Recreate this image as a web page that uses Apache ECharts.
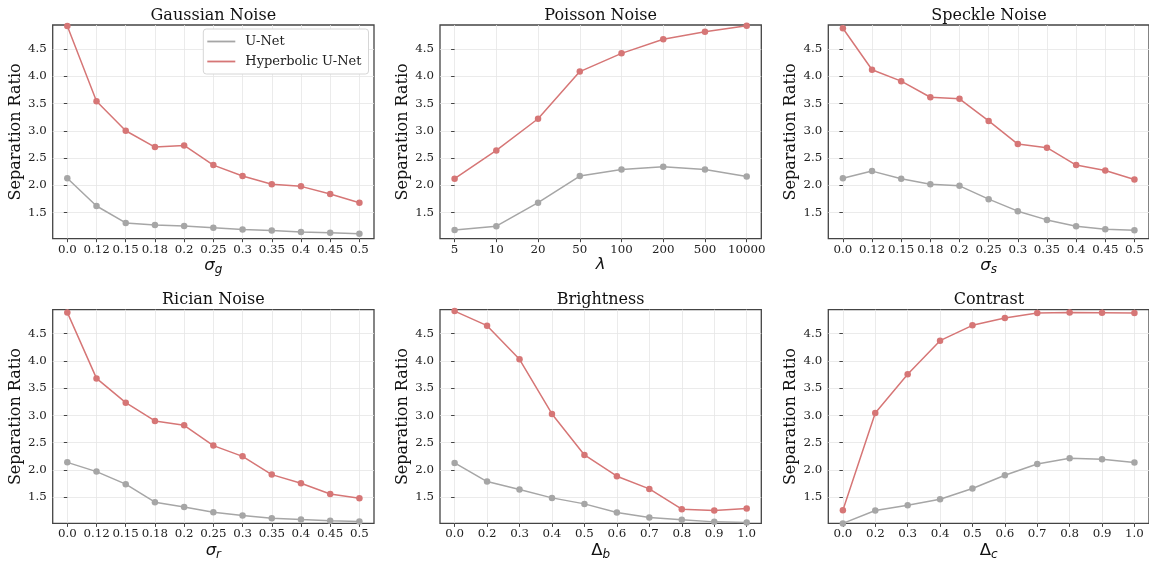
<!DOCTYPE html>
<html><head><meta charset="utf-8">
<script src="https://cdn.jsdelivr.net/npm/echarts@6/dist/echarts.min.js"></script>
<style>html,body{margin:0;padding:0;background:#fff}#c{width:1149px;height:563px}</style>
</head><body><div id="c"></div><script>
// ---- data ----
const sigmaCats = ['0.0','0.12','0.15','0.18','0.2','0.25','0.3','0.35','0.4','0.45','0.5'];
const lambdaCats = ['5','10','20','50','100','200','500','10000'];
const deltaCats = ['0.0','0.2','0.3','0.4','0.5','0.6','0.7','0.8','0.9','1.0'];
const yTicks = [1.5, 2.0, 2.5, 3.0, 3.5, 4.0, 4.5];

const gaussUnet = [2.13,1.62,1.31,1.27,1.255,1.22,1.19,1.17,1.145,1.13,1.11];
const gaussHyp  = [4.92,3.54,3.00,2.70,2.73,2.37,2.17,2.02,1.98,1.84,1.68];
const poissonUnet = [1.18,1.25,1.68,2.17,2.29,2.34,2.29,2.16];
const poissonHyp  = [2.12,2.64,3.22,4.085,4.42,4.68,4.815,4.925];
const speckleUnet = [2.13,2.26,2.12,2.02,1.99,1.745,1.525,1.365,1.25,1.195,1.175];
const speckleHyp  = [4.88,4.12,3.91,3.615,3.585,3.18,2.755,2.69,2.37,2.27,2.105];
const ricianUnet = [2.14,1.97,1.74,1.41,1.32,1.225,1.165,1.115,1.09,1.07,1.055];
const ricianHyp  = [4.89,3.68,3.235,2.90,2.82,2.447,2.25,1.915,1.757,1.56,1.48];
const brightUnet = [2.13,1.787,1.64,1.488,1.378,1.219,1.128,1.085,1.048,1.036];
const brightHyp  = [4.915,4.647,4.03,3.028,2.276,1.885,1.653,1.28,1.256,1.292];
const contrastUnet = [1.02,1.256,1.353,1.463,1.659,1.903,2.111,2.215,2.197,2.136];
const contrastHyp  = [1.262,3.046,3.755,4.372,4.653,4.787,4.879,4.89,4.885,4.879];

const panels = [
  {title:'Gaussian Noise', cats:sigmaCats, u:gaussUnet, h:gaussHyp, sym:'σ', sub:'g', upright:false},
  {title:'Poisson Noise', cats:lambdaCats, u:poissonUnet, h:poissonHyp, sym:'λ', sub:'', upright:false},
  {title:'Speckle Noise', cats:sigmaCats, u:speckleUnet, h:speckleHyp, sym:'σ', sub:'s', upright:false},
  {title:'Rician Noise', cats:sigmaCats, u:ricianUnet, h:ricianHyp, sym:'σ', sub:'r', upright:false},
  {title:'Brightness', cats:deltaCats, u:brightUnet, h:brightHyp, sym:'Δ', sub:'b', upright:true},
  {title:'Contrast', cats:deltaCats, u:contrastUnet, h:contrastHyp, sym:'Δ', sub:'c', upright:true}
];

// ---- layout / style ----
const lefts = [52.7, 440, 828.3], tops = [25, 309.7], W = 321.3, H = 213.7;
const SERIF = 'DejaVu Serif';
const RED = '#d67676', GREY = '#a6a6a6';
const YMIN = 1.02, YMAX = 4.94;

const grid = [], xAxis = [], yAxis = [], series = [], title = [];
panels.forEach((p, i) => {
  const r = Math.floor(i / 3), c = i % 3;
  grid.push({left: lefts[c], top: tops[r], width: W, height: H, show: true,
    borderColor: '#444', borderWidth: 1.3, backgroundColor: 'transparent', containLabel: false});
  title.push({text: p.title, left: lefts[c] + W / 2, top: tops[r] - 17.5, textAlign: 'center',
    textVerticalAlign: 'top', padding: 0,
    textStyle: {fontFamily: SERIF, fontSize: 16, fontWeight: 'normal', color: '#111'}});
  const n = p.cats.length;
  const idx = p.cats.map((_, k) => k);
  const pad = 0.05 * (n - 1);
  xAxis.push({type: 'value', gridIndex: i, min: -pad, max: n - 1 + pad,
    axisLine: {show: false},
    axisTick: {show: true, customValues: idx, length: 3.5, lineStyle: {color: '#444', width: 1}},
    axisLabel: {customValues: idx, formatter: v => p.cats[Math.round(v)], margin: 5,
      fontFamily: SERIF, fontSize: 11.8, color: '#222'},
    splitLine: {show: true, lineStyle: {color: '#e6e6e6', width: 0.8}},
    name: p.sub ? '{a|' + p.sym + '}{b|' + p.sub + '}' : '{a|' + p.sym + '}',
    nameLocation: 'middle', nameGap: 16.5,
    nameTextStyle: {rich: {
      a: {fontFamily: 'DejaVu Sans', fontStyle: p.upright ? 'normal' : 'italic', fontSize: 16.5, color: '#111'},
      b: {fontFamily: 'DejaVu Sans', fontStyle: 'italic', fontSize: 12, color: '#111', padding: [9, 0, 0, 0]}
    }}
  });
  yAxis.push({type: 'value', gridIndex: i, min: YMIN, max: YMAX,
    axisLine: {show: false},
    axisTick: {show: true, customValues: yTicks, length: 3.5, lineStyle: {color: '#444', width: 1}},
    axisLabel: {customValues: yTicks, formatter: v => v.toFixed(1), margin: 6,
      fontFamily: SERIF, fontSize: 11.8, color: '#222'},
    splitLine: {show: true, lineStyle: {color: '#e6e6e6', width: 0.8}},
    name: 'Separation Ratio', nameLocation: 'middle', nameGap: 29,
    nameTextStyle: {fontFamily: SERIF, fontSize: 16, color: '#111'}
  });
  series.push({name: 'U-Net', type: 'line', xAxisIndex: i, yAxisIndex: i,
    data: p.u.map((v, k) => [k, v]), symbol: 'circle', symbolSize: 6.5, showSymbol: true,
    lineStyle: {color: GREY, width: 1.5}, itemStyle: {color: GREY}, z: 2, animation: false});
  series.push({name: 'Hyperbolic U-Net', type: 'line', xAxisIndex: i, yAxisIndex: i,
    data: p.h.map((v, k) => [k, v]), symbol: 'circle', symbolSize: 6.5, showSymbol: true,
    lineStyle: {color: RED, width: 1.5}, itemStyle: {color: RED}, z: 3, animation: false});
});

const chart = echarts.init(document.getElementById('c'), null, {renderer: 'canvas'});
chart.setOption({
  animation: false,
  backgroundColor: '#fff',
  title, grid, xAxis, yAxis, series,
  legend: {data: ['U-Net', 'Hyperbolic U-Net'], orient: 'vertical', left: 203.3, top: 29,
    icon: 'rect', itemWidth: 28, itemHeight: 1.8, itemGap: 6,
    padding: [5.5, 7, 5.5, 4], backgroundColor: '#fff', borderColor: '#d6d6d6', borderWidth: 1, borderRadius: 3,
    textStyle: {fontFamily: SERIF, fontSize: 13, color: '#222', lineHeight: 14, padding: [0, 0, 0, 5]},
    selectedMode: false}
});
</script></body></html>
